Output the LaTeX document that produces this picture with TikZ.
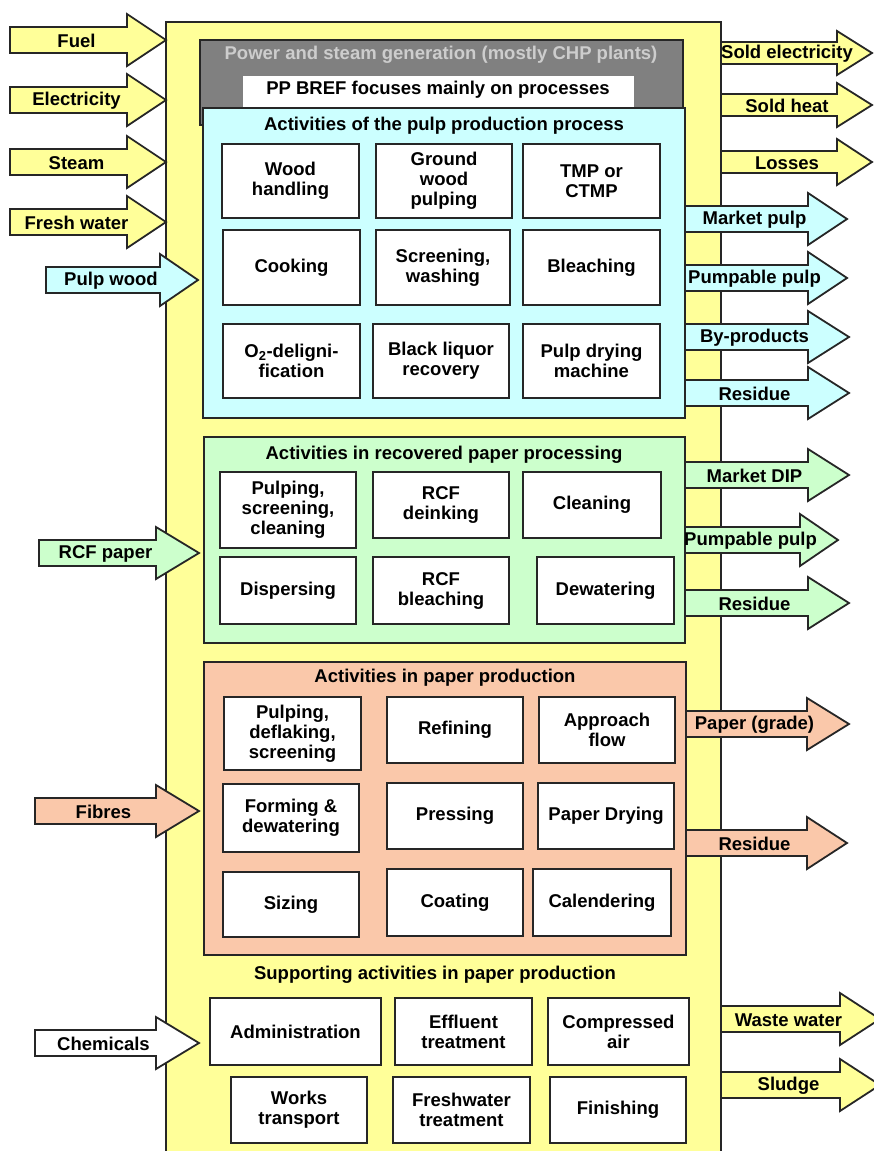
\documentclass[tikz,border=0pt]{standalone}
\usepackage{fontspec}
\setmainfont{Liberation Sans}
\definecolor{ylw}{RGB}{255,255,153}
\definecolor{cyn}{RGB}{204,255,255}
\definecolor{grn}{RGB}{204,255,204}
\definecolor{org}{RGB}{250,200,170}
\definecolor{gry}{RGB}{128,128,128}
\definecolor{gtx}{RGB}{205,205,205}
\newcommand{\fnt}{\fontsize{18.5}{20}\selectfont\bfseries}
\newcommand{\bx}[6]{\node[box, minimum width=#4pt, minimum height=#5pt] (#1) at (#2,#3) {#6};}
% name, x start, x head base, x tip, y centre, fill, label, body half, head half
\newcommand{\flwg}[9]{%
  \draw[flow, fill=#6] (#2,#5-#8) -- (#3,#5-#8) -- (#3,#5-#9) -- (#4,#5) -- (#3,#5+#9) -- (#3,#5+#8) -- (#2,#5+#8) -- cycle;
  \node[lbl] (#1) at ({(#2+#3)/2+8},#5+1) {#7};}
\newcommand{\flw}[7]{\flwg{#1}{#2}{#3}{#4}{#5}{#6}{#7}{13}{26}}
\begin{document}
\begin{tikzpicture}[x=1pt,y=-1pt,
  sect/.style={draw=black!85, line width=2.4pt, inner sep=0pt},
  box/.style={draw=black!85, fill=white, line width=2.4pt, align=center, inner sep=1pt, font=\fnt},
  ttl/.style={font=\fnt, inner sep=0pt},
  lbl/.style={font=\fnt, inner sep=0pt},
  flow/.style={draw=black!85, line width=1.8pt, line join=miter}]
\useasboundingbox (0,0) rectangle (873,1151);
% main frame
\node[sect, fill=ylw, minimum width=555pt, minimum height=1140pt] (frame) at (443.5,592) {};
% power and steam
\node[sect, fill=gry, minimum width=483pt, minimum height=85pt] (power) at (441.5,82.5) {};
\node[ttl, text=gtx] (powert) at (441,55) {Power and steam generation (mostly CHP plants)};
\node[fill=white, inner sep=0pt, minimum width=391pt, minimum height=34pt] (bref) at (438.5,93) {};
\node[ttl] (breft) at (438,90) {PP BREF focuses mainly on processes};
% pulp section
\node[sect, fill=cyn, minimum width=482pt, minimum height=310pt] (pulp) at (444,263) {};
\node[ttl] (pulpt) at (444,126) {Activities of the pulp production process};
\bx{wood}{290.5}{181}{137}{74}{Wood\\handling}
\bx{ground}{444}{181}{136}{74}{Ground\\wood\\pulping}
\bx{tmp}{591.5}{181}{137}{74}{TMP or\\CTMP}
\bx{cook}{291.5}{267.5}{137}{75}{Cooking}
\bx{screen}{443}{267.5}{134}{75}{Screening,\\washing}
\bx{bleach}{591.5}{267.5}{137}{75}{Bleaching}
\bx{otwo}{291.5}{361}{137}{74}{O\textsubscript{2}-deligni-\\fication}
\bx{black}{441}{361}{136}{74}{Black liquor\\recovery}
\bx{pdm}{591.5}{361}{137}{74}{Pulp drying\\machine}
% recovered paper section
\node[sect, fill=grn, minimum width=481pt, minimum height=206pt] (rcf) at (444.5,540) {};
\node[ttl] (rcft) at (444,455) {Activities in recovered paper processing};
\bx{psc}{288}{510}{136}{76}{Pulping,\\screening,\\cleaning}
\bx{deink}{441}{505}{136}{66}{RCF\\deinking}
\bx{clean}{592}{505}{138}{66}{Cleaning}
\bx{disp}{288}{590.5}{136}{67}{Dispersing}
\bx{rcfb}{441}{590.5}{136}{67}{RCF\\bleaching}
\bx{dewat}{605.5}{590.5}{137}{67}{Dewatering}
% paper production section
\node[sect, fill=org, minimum width=482pt, minimum height=293pt] (paper) at (445,808.5) {};
\node[ttl] (papert) at (445,678) {Activities in paper production};
\bx{pds}{292.5}{733.5}{137}{73}{Pulping,\\deflaking,\\screening}
\bx{refin}{455}{730}{136}{66}{Refining}
\bx{appr}{607}{730}{136}{66}{Approach\\flow}
\bx{form}{291}{818}{136}{68}{Forming \&\\dewatering}
\bx{press}{455}{816}{136}{66}{Pressing}
\bx{pdry}{606}{816}{136}{66}{Paper Drying}
\bx{size}{291}{904.5}{136}{65}{Sizing}
\bx{coat}{455}{902.5}{136}{67}{Coating}
\bx{cal}{602}{902.5}{138}{67}{Calendering}
% supporting
\node[ttl] (supt) at (435,975) {Supporting activities in paper production};
\bx{admin}{295.5}{1031.5}{171}{67}{Administration}
\bx{effl}{463.5}{1031.5}{137}{67}{Effluent\\treatment}
\bx{comp}{618.5}{1031.5}{141}{67}{Compressed\\air}
\bx{works}{299}{1110}{136}{66}{Works\\transport}
\bx{fresh}{461.5}{1110}{137}{66}{Freshwater\\treatment}
\bx{finish}{618}{1110}{136}{66}{Finishing}
% input flows
\flw{fuel}{10}{127}{166}{40}{ylw}{Fuel}
\flw{elec}{10}{127}{166}{100}{ylw}{Electricity}
\flw{steam}{10}{127}{166}{162}{ylw}{Steam}
\flw{fwater}{10}{127}{166}{222}{ylw}{Fresh water}
\flw{pwood}{46}{160}{198}{280}{cyn}{Pulp wood}
\flw{rcfp}{39}{156}{199}{553}{grn}{RCF paper}
\flw{fib}{35}{156}{199}{811}{org}{Fibres}
\flw{chem}{35}{156}{199}{1043}{white}{Chemicals}
% output flows
\flwg{selec}{721}{837}{872}{53}{ylw}{Sold electricity}{11}{22}
\flwg{sheat}{721}{837}{872}{105}{ylw}{Sold heat}{11}{22}
\flwg{loss}{721}{837}{872}{162}{ylw}{Losses}{11}{23}
\flw{mpulp}{685}{808}{847}{219}{cyn}{Market pulp}
\flw{ppulp}{685}{808}{847}{278}{cyn}{Pumpable pulp}
\flw{byp}{685}{808}{849}{337}{cyn}{By-products}
\flw{resa}{685}{808}{849}{393}{cyn}{Residue}
\flw{mdip}{685}{808}{849}{475}{grn}{Market DIP}
\flw{ppulpb}{685}{800}{838}{540}{grn}{Pumpable pulp}
\flw{resb}{685}{808}{849}{603}{grn}{Residue}
\flw{pgrade}{686}{807}{849}{724}{org}{Paper (grade)}
\flw{resc}{686}{807}{847}{843}{org}{Residue}
\flw{wwater}{721}{840}{880}{1019}{ylw}{Waste water}
\flw{sludge}{721}{840}{880}{1085}{ylw}{Sludge}
\end{tikzpicture}
\end{document}
